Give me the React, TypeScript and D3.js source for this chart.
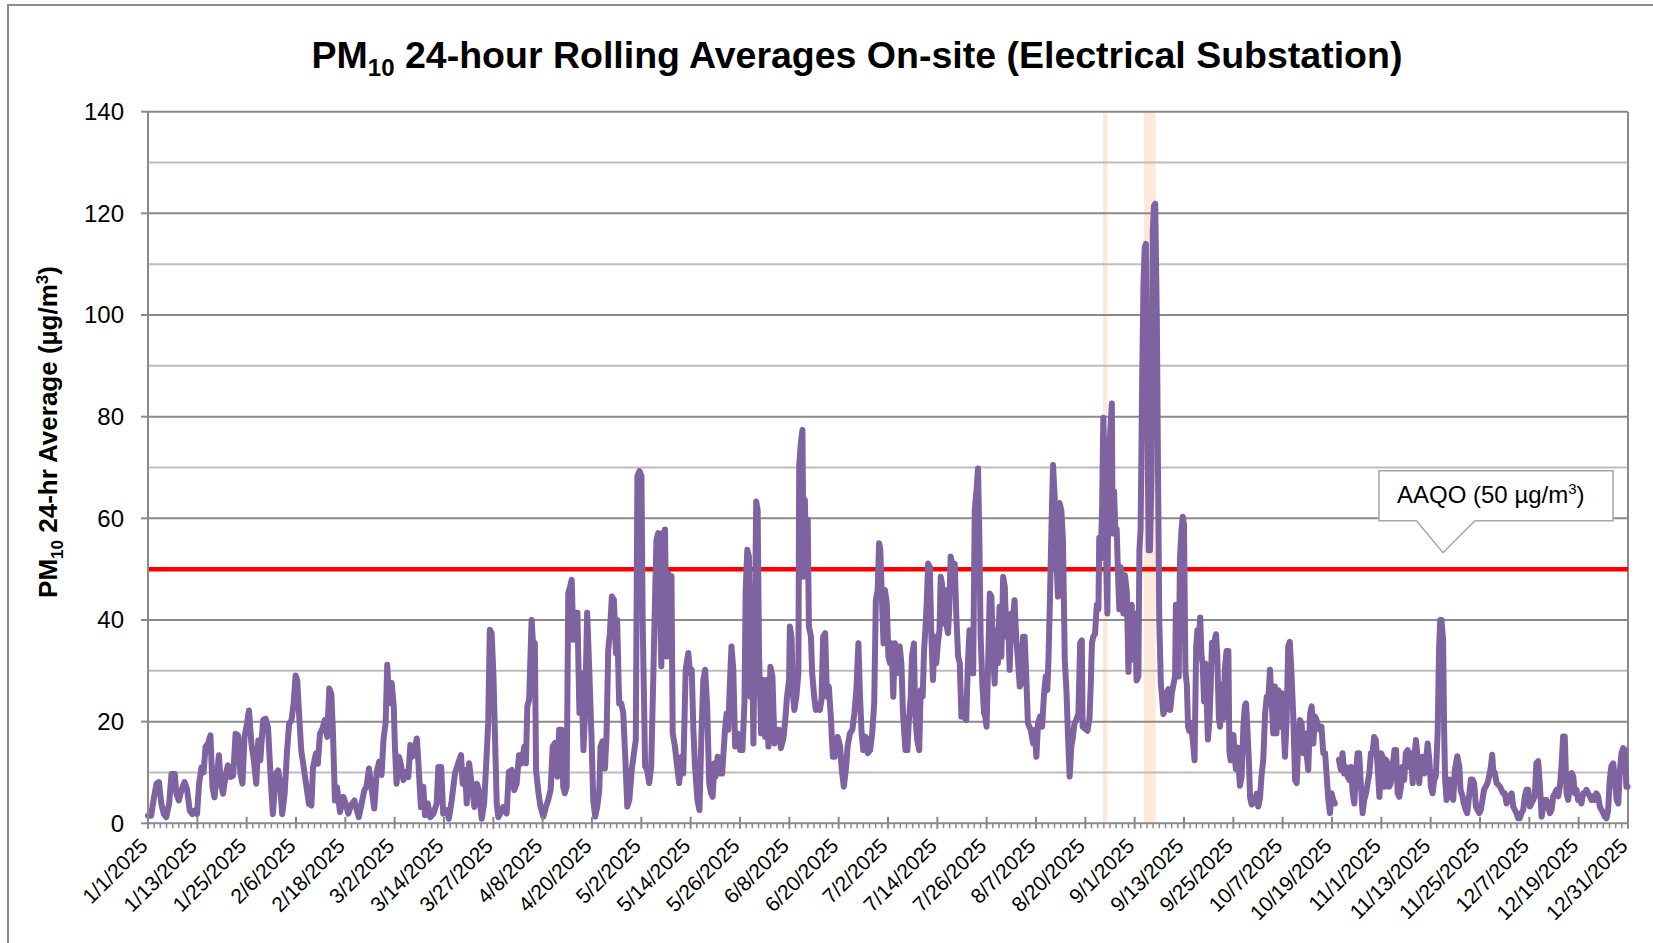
import React from "react";
import * as d3 from "d3";

// ---------- DATA ----------
const xTickLabels = [
  "1/1/2025", "1/13/2025", "1/25/2025", "2/6/2025", "2/18/2025", "3/2/2025",
  "3/14/2025", "3/27/2025", "4/8/2025", "4/20/2025", "5/2/2025", "5/14/2025",
  "5/26/2025", "6/8/2025", "6/20/2025", "7/2/2025", "7/14/2025", "7/26/2025",
  "8/7/2025", "8/20/2025", "9/1/2025", "9/13/2025", "9/25/2025", "10/7/2025",
  "10/19/2025", "11/1/2025", "11/13/2025", "11/25/2025", "12/7/2025",
  "12/19/2025", "12/31/2025",
];
const yTicks = [0, 20, 40, 60, 80, 100, 120, 140];
const yMinorTicks = [10, 30, 50, 70, 90, 110, 130];
const yearDays = 365;
const aaqoLimit = 50;
// shaded periods (day of year, start / end)
const shadedPeriods: [number, number][] = [
  [235.5, 236.6],
  [245.6, 248.5],
];
// [day of year, PM10 24-hr rolling average µg/m³]; null = no data
const pm10Readings: [number, number | null][] = [
  [0, 1.5], [0.8, 1.5], [1.2, 3.8], [2.1, 7.8], [2.7, 8.1], [3.3, 3.8], [3.9, 1.8], [4.5, 1.2], [5.2, 3.8], [5.8, 9.7],
  [6.6, 9.7], [7.0, 5.8], [7.6, 4.5], [8.2, 6.4], [9.0, 8.1], [9.6, 6.8], [10.3, 2.5], [10.9, 1.8], [11.5, 2.5], [12.1, 1.8],
  [12.6, 7.8], [13.2, 11], [13.7, 10], [14.2, 15], [14.8, 15.7], [15.4, 17.3], [15.9, 7.1], [16.4, 5.1], [17.0, 9.7], [17.5, 13.4],
  [17.9, 8.4], [18.5, 5.8], [19.2, 9.7], [19.7, 11.4], [20.3, 9.1], [21.0, 9.4], [21.6, 17.6], [22.2, 17.3], [22.8, 9.7], [23.3, 7.8],
  [23.8, 17], [24.4, 19.6], [24.9, 22.2], [25.5, 15.7], [26.1, 12.4], [26.7, 7.8], [27.2, 16.3], [27.7, 12.4], [28.4, 20.3], [29.0, 20.6],
  [29.6, 18.9], [30.2, 9.7], [30.8, 1.8], [31.5, 9.7], [32.1, 10.4], [32.5, 8.4], [33.1, 1.8], [33.7, 5.8], [34.3, 14.3], [34.8, 19.6],
  [35.4, 20.3], [35.9, 23.5], [36.4, 29.1], [36.8, 28.2], [37.3, 20.9], [37.8, 14.3], [38.4, 11], [39.1, 7.1], [39.7, 3.8], [40.3, 3.5],
  [40.7, 11], [41.4, 13.7], [41.9, 11.7], [42.4, 17.6], [43.0, 18.6], [43.6, 20.3], [44.2, 17], [44.7, 26.5], [45.2, 25.5], [45.6, 18.3],
  [46.1, 4.5], [46.6, 7.1],
  [47.35, 2.2], [48.2, 5.2], [48.75, 3.9], [49.4, 1.9], [50.1, 3.6], [50.9, 4.5], [51.5, 2.6], [52.0, 1.2], [52.7, 3.9], [53.35, 6.5],
  [53.9, 7.2], [54.5, 10.8], [55.2, 6.5], [55.8, 2.9], [56.4, 10.1], [57.0, 12.1], [57.6, 9.5], [58.1, 16.7], [58.6, 19.7], [59.0, 31.2],
  [59.5, 23.6], [60.1, 27.6], [60.6, 23], [60.9, 15.1], [61.3, 7.8], [61.9, 13.1], [62.4, 11.4], [63.0, 8.5], [63.5, 10.1], [64.2, 9.1],
  [64.7, 15.4], [65.2, 13.1], [65.7, 14.1], [66.3, 16.7], [66.7, 11.8], [67.3, 3.2], [67.9, 7.2], [68.3, 1.6], [69.0, 3.9], [69.6, 1.2],
  [70.4, 1.9], [71.2, 3.9], [71.6, 11.1], [72.3, 11.1], [72.8, 1.9], [73.7, 2.6], [74.2, 0.9], [74.9, 4.5], [75.7, 9.8], [76.5, 11.8],
  [77.2, 13.4], [77.6, 7.8], [78.2, 10.5], [78.6, 3.9], [79.2, 11.8], [79.8, 7.8], [80.5, 3.2], [81.1, 7.8], [81.6, 6.5], [82.3, 0.9],
  [82.9, 3.9], [83.5, 13.1], [83.9, 19.7], [84.3, 38.1], [84.75, 37.4], [85.2, 28.9], [85.6, 16.4], [86.0, 3.9], [86.4, 1.2], [87.1, 2.2],
  [87.6, 3.2], [88.45, 1.9], [89.0, 10.1], [89.7, 10.5], [90.3, 6.5], [90.9, 7.8], [91.5, 13.4], [92.15, 11.8], [92.8, 15.1],
  [93.2, 11.8], [93.55, 23], [94.0, 24.3], [94.6, 40], [95.0, 34.8], [95.4, 35.5], [95.7, 10.5], [96.3, 5.9], [96.8, 3.3], [97.5, 1.3],
  [98.15, 3.3], [98.7, 4.6], [99.3, 6.6], [99.8, 15.1], [100.4, 15.8], [100.95, 9.2], [101.4, 18.4], [102.0, 18.4], [102.4, 7.2], [102.8, 5.9],
  [103.25, 7.2], [103.65, 45.3], [104.1, 46.6], [104.5, 47.9], [104.9, 36.1], [105.3, 41.4], [105.9, 41.4], [106.4, 21.7], [106.9, 29.5], [107.4, 14.4],
  [107.8, 22.3], [108.3, 41.4], [108.8, 30.9], [109.4, 16.4], [109.8, 4.6], [110.3, 1.3], [110.8, 3.3], [111.3, 6.6], [111.6, 15.1], [112.1, 16.1],
  [112.7, 10.8], [113.1, 17.7], [113.5, 34.1], [113.9, 37.4], [114.4, 44.6], [114.9, 44], [115.4, 33.5], [115.7, 40], [116.2, 23.6], [116.7, 23.6],
  [117.2, 21.7], [117.7, 13.1], [118.2, 3.3], [118.7, 4.6], [119.3, 10.5], [119.85, 13.8], [120.3, 16.4], [120.7, 68.3], [121.2, 69.3], [121.7, 68.3],
  [122.0, 39.4], [122.3, 25.6], [122.6, 11.2], [123.1, 10.5], [123.6, 7.9], [124.1, 11.2], [124.6, 28.2], [125.1, 46], [125.4, 55.8], [125.85, 57.1],
  [126.3, 42.7], [126.6, 30.9], [126.9, 57.1], [127.25, 42.7], [127.5, 57.8], [127.9, 32.8], [128.3, 49.2], [128.7, 40.7], [129.1, 48.6], [129.4, 17.7],
  [129.96, 15.1], [130.5, 11.2], [131.0, 7.9], [131.6, 13.1], [132.0, 9.8], [132.6, 30.2], [133.25, 33.5], [133.7, 29.5], [134.1, 30.2], [134.5, 18.4],
  [134.9, 11.2], [135.5, 4.6], [136.0, 2.6], [136.5, 17.7], [136.95, 28.2], [137.4, 30.2], [137.9, 23], [138.4, 7.9],
  [138.85, 5.9], [139.25, 5.2], [139.7, 11.8], [140.0, 9.2], [140.5, 13.1], [141.1, 9.8], [141.6, 9.8], [142.3, 18.4], [142.7, 21.6], [143.1, 18.4],
  [143.5, 27.5], [143.9, 34.8], [144.35, 30.2], [144.8, 15.1], [145.4, 17.7], [146.0, 14.4], [146.6, 14.4], [147.1, 23.6], [147.4, 45.9], [147.8, 53.8],
  [148.2, 52.5], [148.55, 24.9], [148.9, 43.3], [149.3, 15.7], [149.7, 42], [150.0, 63.3], [150.35, 61.6], [150.7, 32.8], [151.2, 17.7], [151.7, 28.2],
  [152.2, 17], [152.6, 28.2], [153.0, 15.1], [153.5, 30.8], [154.0, 28.9], [154.5, 15.7], [155.0, 18.4], [155.6, 18.4], [156.1, 14.8], [156.7, 16.7],
  [157.1, 19.7], [157.6, 24.9], [158.1, 28.2], [158.3, 38.7], [158.7, 36.7], [159.1, 24.9], [159.4, 22.3], [159.9, 24.9], [160.4, 29.5], [160.6, 70.2],
  [161.0, 74.8], [161.4, 77.4], [161.7, 48.5], [162.0, 63.6], [162.4, 48.5], [162.7, 59.7], [163.0, 38.7], [163.5, 36.7], [163.8, 29.5], [164.3, 24.9],
  [164.7, 22.3], [165.2, 23], [165.7, 22.3], [166.1, 24.3], [166.5, 36.7], [167.0, 37.4], [167.45, 24.9], [167.9, 26.9], [168.4, 21], [168.9, 13.1],
  [169.4, 13.1], [170.1, 17], [170.7, 15.1], [171.1, 10.5], [171.6, 7.2], [172.1, 10.5], [172.55, 15.1], [173.1, 17.7], [173.7, 18.4], [174.2, 21.6],
  [174.7, 26.2], [175.2, 35.4], [175.6, 24.9], [176.0, 17.7], [176.4, 14.4], [177.0, 17], [177.5, 13.8], [178.1, 14.4], [178.6, 17.7], [179.1, 23.6],
  [179.5, 43.9], [179.95, 45.9], [180.3, 55.1], [180.6, 53.8], [181.1, 42], [181.4, 35.4], [181.75, 45.9], [182.2, 43.3], [182.6, 32.8], [183.0, 31.5],
  [183.4, 35.4], [183.8, 24.9], [184.2, 35.4],
  [184.55, 29.5], [184.95, 34.1], [185.4, 34.8], [185.8, 31.5], [186.2, 21.6], [186.8, 14.4], [187.3, 14.4], [187.6, 19.7], [188.1, 24.9], [188.4, 32.8],
  [188.9, 35.4], [189.2, 21.6], [189.7, 16.4], [190.2, 14.4], [190.55, 26.2], [191.05, 24.9], [191.4, 34.1], [191.7, 38], [192.05, 43.3], [192.4, 51.1],
  [192.8, 50.5], [193.2, 36.7], [193.6, 28.2], [194.0, 36.7], [194.4, 31.5], [194.8, 35.4], [195.2, 38], [195.5, 48.5], [195.8, 47.2], [196.3, 39.3],
  [196.6, 45.9], [197.0, 38.7], [197.3, 37.4], [197.6, 42], [197.95, 52.5], [198.3, 51.1], [198.6, 49.8], [198.95, 51.1], [199.35, 40.7], [199.8, 32.8],
  [200.2, 31.5], [200.6, 21], [201.2, 21], [201.8, 20.3], [202.2, 31.5], [202.6, 38], [203.05, 38], [203.5, 29.5], [203.9, 61.6], [204.4, 66.2],
  [204.7, 69.8], [205.0, 57.7], [205.35, 36.7], [205.8, 26.9], [206.2, 21.6], [206.5, 21], [206.8, 19], [207.2, 31.5], [207.6, 45.2], [208.0, 44.6],
  [208.4, 34.1], [208.8, 27.5], [209.2, 38], [209.6, 31.5], [210.0, 42.6], [210.45, 32.8], [210.9, 48.5], [211.3, 46.6], [211.7, 36.7], [212.1, 40.7],
  [212.5, 30.2], [212.9, 41.3], [213.3, 39.3], [213.7, 43.9], [214.1, 36.7], [214.6, 31.5], [215.0, 26.9], [215.4, 27.5], [215.8, 36.7], [216.2, 36.7],
  [216.6, 28.9], [217.0, 19.7], [217.7, 18.4], [218.3, 15.7], [218.7, 18.4], [219.1, 13.1], [219.5, 19.7], [220.0, 21], [220.5, 19], [221.0, 25.6],
  [221.4, 28.9], [221.8, 26.2], [222.1, 32.8], [222.45, 44.6], [222.8, 57.7], [223.2, 70.5], [223.6, 64.3], [224.0, 52.5], [224.4, 44.6], [224.8, 63],
  [225.25, 61.6], [225.65, 55.7], [226.1, 32.1], [226.5, 26.2], [226.9, 17], [227.3, 9.2], [227.7, 15.1], [228.1, 17], [228.5, 19.7], [228.9, 20.3],
  [229.45, 21.5], [229.9, 35.5], [230.3, 36], [230.5, 19], [231.1, 18.6], [231.7, 18.2], [232.2, 20.7], [232.5, 27.3], [232.8, 35.5], [233.15, 36.8],
  [233.55, 37.2], [234.0, 43], [234.4, 42.1], [234.6, 56.2], [234.95, 52.1], [235.3, 62], [235.6, 79.8], [235.95, 68.6], [236.3, 52.1], [236.6, 41.3],
  [236.9, 72.7], [237.3, 76.9], [237.7, 82.6], [237.9, 57], [238.25, 65.3], [238.6, 57], [238.9, 57.9], [239.3, 47.1], [239.55, 42.1], [239.9, 50.4],
  [240.2, 47.9], [240.55, 41.3], [240.95, 48.8], [241.4, 45.5], [241.8, 29.8], [242.2, 40.5], [242.6, 43], [243.0, 32.2], [243.4, 41.3], [243.8, 28.1],
  [244.25, 28.9], [244.5, 53.7], [244.8, 57.9], [245.2, 88.4], [245.5, 105.8], [245.8, 113.2], [246.1, 114], [246.5, 76.9], [246.8, 53.7], [247.1, 53.7],
  [247.5, 68.6], [247.8, 116.5], [248.1, 121.5], [248.4, 121.9], [248.8, 99.2], [249.1, 68.6], [249.4, 39.7], [249.8, 27.3], [250.1, 24.8], [250.4, 21.5],
  [250.8, 22.3], [251.2, 25.6], [251.65, 26.4], [252.1, 22.3], [252.5, 25.6], [252.9, 27.3], [253.3, 28.9], [253.5, 43], [253.9, 35.5], [254.2, 28.9],
  [254.5, 52.1], [254.9, 57.9], [255.2, 60.3], [255.5, 58.7], [255.85, 29.8], [256.2, 27.3], [256.5, 19], [256.8, 18.2], [257.2, 19.8], [257.65, 16.5],
  [258.1, 12.4], [258.5, 34.7], [258.8, 38], [259.1, 34.7], [259.5, 40.5], [259.8, 33.1], [260.1, 31.4], [260.45, 24], [260.8, 31.4], [261.1, 24],
  [261.4, 16.5], [261.8, 20.7], [262.1, 27.3], [262.4, 35.5], [262.9, 35.5], [263.4, 37.2], [263.7, 33.1], [264.1, 20.7], [264.4, 19], [264.8, 27.3],
  [265.2, 20.7], [265.6, 30.6], [266.0, 33.9], [266.45, 33.9], [266.7, 14], [267.0, 12.4], [267.35, 15.7], [267.7, 17.4], [268.0, 13.2], [268.3, 10.7],
  [268.7, 14.9], [269.0, 10.7], [269.3, 7.4], [269.7, 9.1], [270.15, 19], [270.5, 23.1], [270.8, 23.6], [271.1, 19], [271.5, 12.4], [271.8, 5],
  [272.2, 3.7], [272.6, 5], [273.0, 4.1], [273.4, 5.8], [273.8, 3.3], [274.25, 5],
  [274.6, 9.2], [275.05, 12.5], [275.5, 21.6], [275.9, 24.9], [276.3, 24.3], [276.7, 30.2], [277.1, 24.3], [277.5, 17.7], [277.9, 26.9], [278.3, 17.7],
  [278.75, 26.2], [279.2, 19], [279.6, 25.6], [280.0, 20.3], [280.4, 13.1], [280.8, 20.3], [281.2, 34.8], [281.6, 35.7], [282.0, 29.5], [282.45, 21],
  [282.9, 8.5], [283.3, 7.9], [283.7, 16.4], [284.1, 20.3], [284.5, 19.7], [284.9, 13.8], [285.3, 17.7], [285.7, 13.8], [286.15, 10.5], [286.6, 21.6],
  [287.0, 23], [287.4, 15.7], [287.8, 21], [288.2, 20.3], [288.6, 19], [289.0, 18.4], [289.4, 19], [289.85, 13.8], [290.3, 13.8], [290.7, 9.2],
  [291.1, 4.6], [291.5, 2], [291.9, 5.9], [292.3, 4.6], [292.7, 3.9],
  [293.2, null],
  [293.7, 12.5], [294.2, 10.5], [294.6, 13.8], [295.0, 9.8], [295.4, 11.1], [295.85, 9.2], [296.3, 8.5], [296.7, 11.1], [297.1, 5.9], [297.5, 3.9],
  [297.9, 9.8], [298.3, 13.8], [298.7, 13.8], [299.1, 7.9], [299.55, 2], [299.95, 4.6], [300.4, 5.9], [300.8, 7.9], [301.2, 9.8], [301.6, 13.8],
  [302.0, 13.8], [302.4, 17], [302.8, 16.4], [303.25, 11.1], [303.7, 5.2], [304.1, 13.8], [304.5, 13.1], [304.9, 7.2], [305.3, 12.5], [305.7, 11.8],
  [306.1, 7.2], [306.5, 7.9], [306.95, 11.1], [307.4, 14.4], [307.8, 14.4], [308.2, 5.9], [308.6, 5.2], [309.0, 7.2], [309.4, 11.1], [309.8, 8.5],
  [310.2, 13.8], [310.65, 14.4], [311.05, 11.1], [311.5, 13.8], [311.9, 7.9], [312.3, 13.1], [312.7, 16.4], [313.1, 13.1], [313.5, 7.9], [313.9, 11.8],
  [314.35, 13.1], [314.8, 9.8], [315.2, 12.5], [315.6, 15.7], [316.0, 12.5], [316.4, 7.2], [316.8, 5.9], [317.2, 8.5], [317.6, 9.2], [318.05, 17.7],
  [318.4, 34.1], [318.7, 40], [319.0, 40], [319.4, 36],
  [319.65, 18.4], [319.9, 8.6], [320.25, 4.6], [320.65, 5.3], [321.05, 8.6], [321.5, 7.2], [321.9, 4.6], [322.3, 10.5], [322.9, 13.2], [323.4, 11.2],
  [323.7, 6.6], [324.2, 5.3], [324.5, 3.9], [325.0, 2.6], [325.35, 2], [325.8, 5.3], [326.25, 8.6], [326.65, 8.6], [327.05, 7.9], [327.5, 3.3],
  [327.9, 2.6], [328.3, 2], [328.7, 2.6], [329.1, 4.6], [329.5, 6.6], [329.9, 7.2], [330.35, 7.9], [330.75, 9.2], [331.2, 11.2], [331.5, 13.5],
  [331.75, 10.5], [332.15, 9.9], [332.6, 7.9], [333.0, 7.6], [333.4, 7.2], [333.8, 6.6], [334.2, 5.9], [334.6, 5.9], [335.05, 3.9], [335.45, 4.6],
  [335.85, 5.3], [336.3, 5.9], [336.7, 3.3], [337.1, 2.6], [337.5, 2], [337.9, 1], [338.3, 1], [338.7, 2], [339.15, 2.6], [339.55, 5.3],
  [339.95, 6.6], [340.4, 6.6], [340.8, 3.3], [341.2, 3.9], [341.6, 4.6], [342.0, 5.3], [342.4, 11.8], [342.85, 12.2], [343.3, 7.2], [343.7, 1.3],
  [344.1, 3.3], [344.5, 4.6], [344.9, 4.6], [345.3, 3.3], [345.75, 2], [346.15, 2.6], [346.55, 5.3], [346.95, 5.9], [347.4, 6.6], [347.8, 5.3],
  [348.2, 7.2], [348.6, 11.2], [349.0, 17.1], [349.4, 17.1], [349.85, 5.9], [350.25, 4.6], [350.65, 7.2], [351.1, 9.9], [351.5, 9.2], [351.9, 5.9],
  [352.3, 6.6], [352.7, 4.6], [353.1, 5.3], [353.5, 3.9], [353.95, 5.9], [354.35, 5.9], [354.75, 6.6], [355.2, 5.9], [355.6, 5.3], [356.0, 4.6],
  [356.4, 5.3], [356.8, 4.6], [357.2, 5.9], [357.65, 5.3], [358.05, 3.3], [358.5, 2.6], [358.9, 2], [359.3, 1.3], [359.7, 1], [360.1, 2.6],
  [360.5, 8.6], [360.9, 11.2], [361.35, 11.8], [361.75, 8.6], [362.2, 4.6], [362.6, 3.9], [363.0, 10.5], [363.4, 13.8], [363.8, 14.8], [364.2, 14.5],
  [364.6, 7.2], [364.9, 7.2],
];

// ---------- CHART ----------
const W = 1653;
const H = 943;
const FONT = "'Liberation Sans', Arial, Helvetica, sans-serif";
const plot = { left: 148, right: 1628, top: 111.7, bottom: 823.3 };

export default function App() {
  const x = d3.scaleLinear().domain([0, yearDays]).range([plot.left, plot.right]);
  const y = d3.scaleLinear().domain([0, 140]).range([plot.bottom, plot.top]);

  const line = d3
    .line<[number, number | null]>()
    .defined((d) => d[1] !== null)
    .x((d) => x(d[0]))
    .y((d) => y(d[1] as number));

  const nInt = xTickLabels.length - 1;
  const step = yearDays / nInt;
  const majorDays = xTickLabels.map((_, i) => i * step);
  const minorDays: number[] = [];
  for (let i = 0; i < nInt; i++) {
    for (let k = 1; k < 8; k++) minorDays.push(i * step + (k * step) / 8);
  }

  const limY = y(aaqoLimit);
  const tipX = 1443;
  const tipY = limY - 16.5;
  const boxL = 1379, boxR = 1613, boxB = tipY - 32, boxT = boxB - 50;

  return (
    <div style={{ position: "absolute", left: 0, top: 0 }}>
      <svg width={W} height={H} style={{ display: "block", background: "#fff" }} fontFamily={FONT}>
        <rect x={0} y={0} width={W} height={H} fill="#fff" />
        <rect x={8} y={5} width={W + 20} height={H + 20} fill="none" stroke="#8c8c8c" strokeWidth={2} />

        {/* title */}
        <text x={857} y={68} textAnchor="middle" fontSize={37.5} fontWeight="bold" fill="#000">
          PM<tspan fontSize={24} dy={8}>10</tspan>
          <tspan dy={-8}> 24-hour Rolling Averages On-site (Electrical Substation)</tspan>
        </text>

        {/* shaded periods */}
        {shadedPeriods.map(([a, b], i) => (
          <rect key={i} x={x(a)} y={plot.top} width={x(b) - x(a)} height={plot.bottom - plot.top} fill="#fde9d9" />
        ))}

        {/* gridlines */}
        {yMinorTicks.map((t) => (
          <line key={"mn" + t} x1={plot.left} x2={plot.right} y1={y(t)} y2={y(t)} stroke="#bdbdbd" strokeWidth={2} />
        ))}
        {yTicks.filter((t) => t > 0 && t < 140).map((t) => (
          <line key={"mj" + t} x1={plot.left} x2={plot.right} y1={y(t)} y2={y(t)} stroke="#8a8a8a" strokeWidth={2} />
        ))}
        {/* plot frame top/right */}
        <line x1={plot.left} x2={plot.right} y1={plot.top} y2={plot.top} stroke="#8a8a8a" strokeWidth={2} />
        <line x1={plot.right} x2={plot.right} y1={plot.top} y2={plot.bottom} stroke="#8a8a8a" strokeWidth={2} />

        {/* AAQO line */}
        <line x1={plot.left} x2={plot.right} y1={limY} y2={limY} stroke="#ff0000" strokeWidth={4.5} />

        {/* data line */}
        <path d={line(pm10Readings) || ""} fill="none" stroke="#7f63a1" strokeWidth={6} strokeLinejoin="round" strokeLinecap="round" />

        {/* axes */}
        <line x1={plot.left} x2={plot.left} y1={plot.top} y2={plot.bottom} stroke="#8a8a8a" strokeWidth={2} />
        <line x1={plot.left} x2={plot.right} y1={plot.bottom} y2={plot.bottom} stroke="#8a8a8a" strokeWidth={2} />
        {yTicks.map((t) => (
          <g key={"yt" + t}>
            <line x1={plot.left - 7} x2={plot.left} y1={y(t)} y2={y(t)} stroke="#8a8a8a" strokeWidth={2} />
            <text x={124} y={y(t)} dy="0.35em" textAnchor="end" fontSize={24} fill="#000">{t}</text>
          </g>
        ))}
        {minorDays.map((d, i) => (
          <line key={"xm" + i} x1={x(d)} x2={x(d)} y1={plot.bottom} y2={plot.bottom + 5} stroke="#8a8a8a" strokeWidth={1.5} />
        ))}
        {majorDays.map((d, i) => (
          <line key={"xM" + i} x1={x(d)} x2={x(d)} y1={plot.bottom - 6.5} y2={plot.bottom + 5.5} stroke="#8a8a8a" strokeWidth={2} />
        ))}
        {majorDays.map((d, i) => (
          <text
            key={"xl" + i}
            transform={`translate(${x(d) + 1},${plot.bottom + 24}) rotate(-45)`}
            textAnchor="end"
            fontSize={21}
            fill="#000"
          >
            {xTickLabels[i]}
          </text>
        ))}

        {/* y axis title */}
        <text transform={`translate(57,432) rotate(-90)`} textAnchor="middle" fontSize={26} fontWeight="bold" fill="#000">
          PM<tspan fontSize={17} dy={6}>10</tspan>
          <tspan dy={-6}> 24-hr Average (µg/m</tspan>
          <tspan fontSize={17} dy={-9}>3</tspan>
          <tspan dy={9}>)</tspan>
        </text>

        {/* callout */}
        <path
          d={`M${boxL},${boxT} H${boxR} V${boxB} H${tipX + 32} L${tipX},${tipY} L${tipX - 26.5},${boxB} H${boxL} Z`}
          fill="#fff"
          stroke="#a6a6a6"
          strokeWidth={1.5}
        />
        <text x={1397} y={boxT + 32} fontSize={24} fill="#000">
          AAQO (50 µg/m<tspan fontSize={15} dy={-9}>3</tspan>
          <tspan dy={9}>)</tspan>
        </text>
      </svg>
    </div>
  );
}
